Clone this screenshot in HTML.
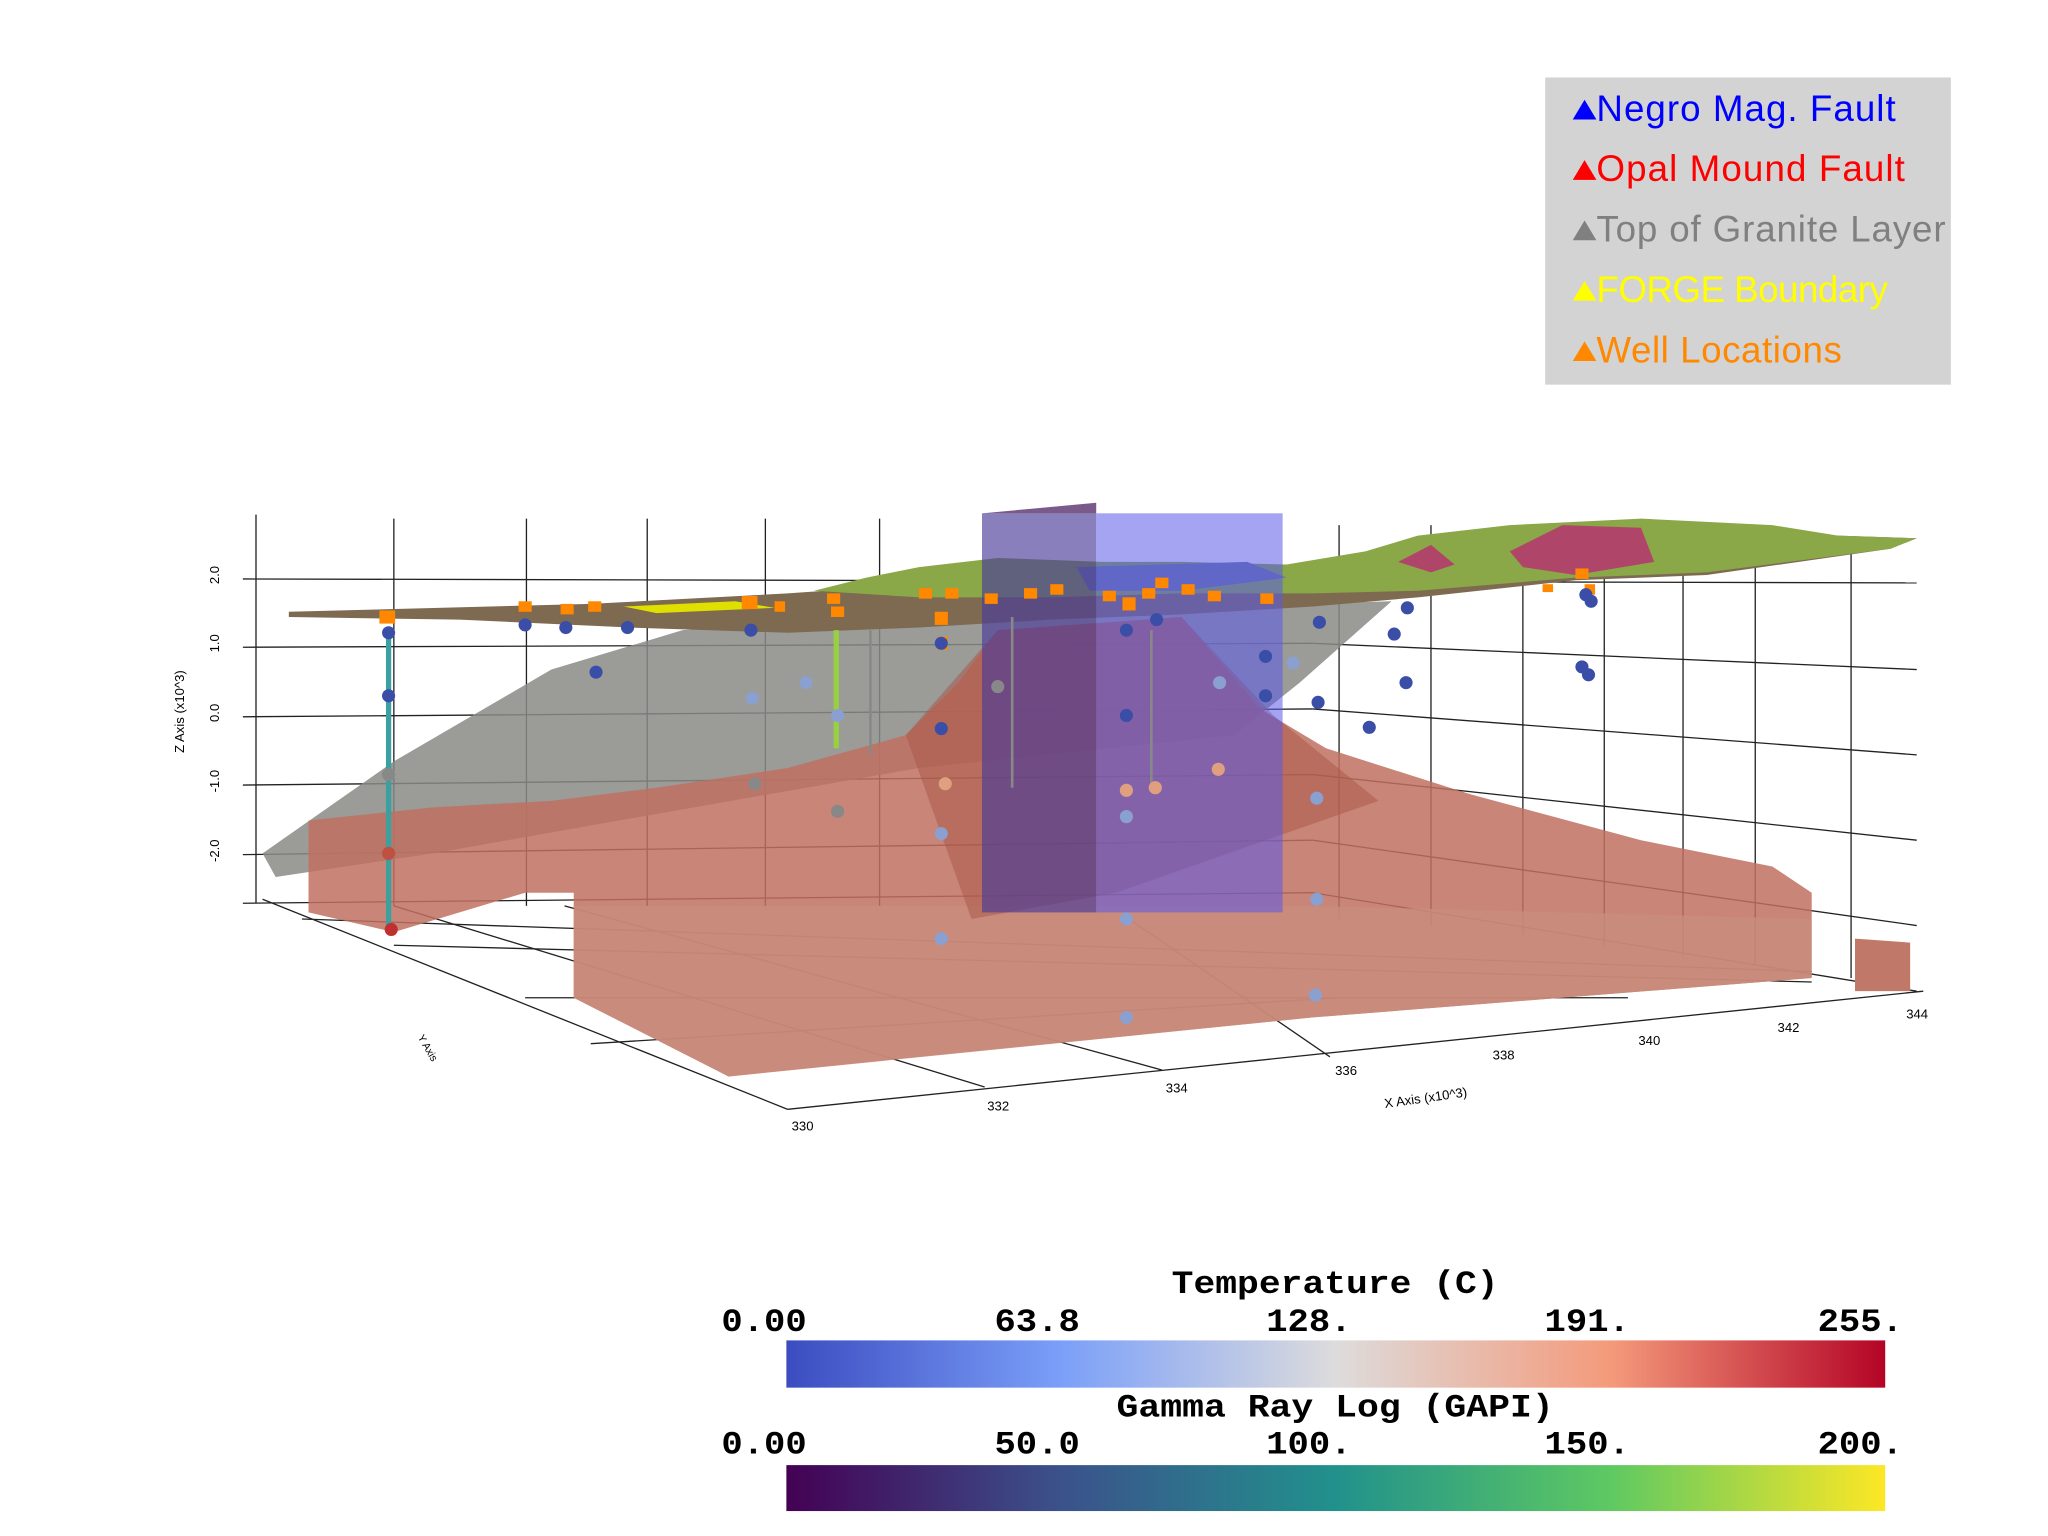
<!DOCTYPE html>
<html><head><style>
html,body{margin:0;padding:0;background:#fff;}
svg{display:block}
</style></head><body>
<svg width="2048" height="1536" viewBox="0 0 1560 1170" xmlns="http://www.w3.org/2000/svg">
<rect width="1560" height="1170" fill="#fff"/>
<g stroke="#222" stroke-width="1" fill="none">
<line x1="195" y1="392" x2="195" y2="688"/>
<line x1="300" y1="395" x2="300" y2="690"/>
<line x1="401" y1="395" x2="401" y2="690"/>
<line x1="493" y1="395" x2="493" y2="690"/>
<line x1="583" y1="395" x2="583" y2="690"/>
<line x1="670" y1="395" x2="670" y2="690"/>
<line x1="1020" y1="400" x2="1020" y2="700"/>
<line x1="1090" y1="400" x2="1090" y2="705"/>
<line x1="1160" y1="405" x2="1160" y2="712"/>
<line x1="1222" y1="410" x2="1222" y2="720"/>
<line x1="1282" y1="410" x2="1282" y2="728"/>
<line x1="1337" y1="415" x2="1337" y2="735"/>
<line x1="1410" y1="420" x2="1410" y2="745"/>
<line x1="185" y1="441" x2="1460" y2="444"/>
<line x1="185" y1="493" x2="1000" y2="490"/><line x1="1000" y1="490" x2="1460" y2="510"/>
<line x1="185" y1="546" x2="1000" y2="540"/><line x1="1000" y1="540" x2="1460" y2="575"/>
<line x1="185" y1="598" x2="1000" y2="590"/><line x1="1000" y1="590" x2="1460" y2="640"/>
<line x1="185" y1="651" x2="1000" y2="640"/><line x1="1000" y1="640" x2="1460" y2="705"/>
<line x1="185" y1="688" x2="1000" y2="680"/><line x1="1000" y1="680" x2="1460" y2="755"/>
<line x1="200" y1="685" x2="600" y2="845"/>
<line x1="600" y1="845" x2="1465" y2="755"/>
<line x1="230" y1="700" x2="1380" y2="740"/>
<line x1="300" y1="720" x2="1380" y2="748"/>
<line x1="400" y1="760" x2="1240" y2="760"/>
<line x1="450" y1="795" x2="1020" y2="760"/>
<line x1="750" y1="828" x2="300" y2="690"/>
<line x1="885" y1="815" x2="430" y2="690"/>
<line x1="1013" y1="805" x2="860" y2="700"/>
</g>
<polygon points="200,650 300,580 420,510 520,480 700,468 1060,458 990,520 940,560 700,585 500,620 330,650 210,668" fill="#8a8a86" opacity="0.85"/>
<polygon points="437,680 437,760 555,820 700,805 1000,775 1380,745 1380,680 1350,660 1250,640 1120,605 1010,570 960,540 900,470 760,480 730,520 690,560 600,585 500,600 420,610 330,615 235,625 235,695 300,710 400,680" fill="#c07060" opacity="0.85"/>
<polygon points="437,690 437,760 555,820 1000,775 1380,745 1380,700 1000,690 600,690" fill="#c98c7c" opacity="0.8"/>
<polygon points="1413,715 1455,718 1455,755 1413,755" fill="#c07868"/>
<polygon points="690,560 760,480 900,470 970,545 1050,610 850,680 740,700" fill="#a85545" opacity="0.5"/>
<!-- terrain -->
<polygon points="220,466 450,460 600,452 700,445 800,440 900,438 1000,432 1080,425 1150,418 1250,412 1350,410 1400,408 1460,410 1440,418 1300,438 1200,442 1080,455 1000,462 900,468 800,472 700,478 600,482 480,478 350,472 220,470" fill="#7d6a50"/>
<polygon points="620,450 660,440 700,432 760,425 840,428 900,428 980,430 1040,420 1080,408 1150,400 1250,395 1350,400 1400,408 1460,410 1440,418 1300,436 1200,440 1080,450 1000,452 900,452 800,455 700,455" fill="#8aa848"/>
<polygon points="1150,420 1190,400 1250,402 1260,428 1200,438 1160,432" fill="#b0456a"/>
<polygon points="1065,428 1090,415 1108,430 1090,436" fill="#b0456a"/>
<polygon points="820,432 950,428 980,440 900,450 830,450" fill="#6a78a0"/>
<polygon points="475,462 560,458 590,463 500,467" fill="#e0e000"/>
<rect x="748" y="391" width="87" height="304" fill="#4a3a9a" opacity="0.65"/>
<polygon points="748,391 835,383 835,391" fill="#7a5a8a"/>
<rect x="835" y="391" width="142" height="304" fill="#5a5ae8" opacity="0.55"/>
<rect x="294" y="480" width="4" height="230" fill="#3aa0a0"/>
<rect x="635" y="480" width="4" height="90" fill="#9ad040"/>
<g fill="#888"><rect x="662" y="480" width="2" height="95"/><rect x="770" y="470" width="2" height="130"/><rect x="876" y="480" width="2" height="120"/></g>
<g fill="#ff8800">
<rect x="289" y="465" width="12" height="10"/><rect x="395" y="458" width="10" height="8"/><rect x="427" y="460" width="10" height="8"/><rect x="448" y="458" width="10" height="8"/>
<rect x="565" y="454" width="12" height="10"/><rect x="590" y="458" width="8" height="8"/><rect x="630" y="452" width="10" height="8"/><rect x="633" y="462" width="10" height="8"/>
<rect x="700" y="448" width="10" height="8"/><rect x="712" y="466" width="10" height="10"/><rect x="720" y="448" width="10" height="8"/><rect x="750" y="452" width="10" height="8"/>
<rect x="780" y="448" width="10" height="8"/><rect x="800" y="445" width="10" height="8"/><rect x="840" y="450" width="10" height="8"/><rect x="855" y="455" width="10" height="10"/>
<rect x="870" y="448" width="10" height="8"/><rect x="880" y="440" width="10" height="8"/><rect x="900" y="445" width="10" height="8"/><rect x="920" y="450" width="10" height="8"/>
<rect x="960" y="452" width="10" height="8"/><rect x="714" y="485" width="8" height="10"/><rect x="1175" y="445" width="8" height="6"/><rect x="1200" y="433" width="10" height="8"/><rect x="1207" y="445" width="8" height="8"/>
</g>
<g fill="#3a4ea8">
<circle cx="296" cy="482" r="5"/><circle cx="400" cy="476" r="5"/><circle cx="431" cy="478" r="5"/><circle cx="478" cy="478" r="5"/><circle cx="454" cy="512" r="5"/>
<circle cx="572" cy="480" r="5"/><circle cx="717" cy="490" r="5"/><circle cx="717" cy="555" r="5"/><circle cx="858" cy="480" r="5"/><circle cx="858" cy="545" r="5"/><circle cx="881" cy="472" r="5"/>
<circle cx="964" cy="500" r="5"/><circle cx="964" cy="530" r="5"/><circle cx="1005" cy="474" r="5"/><circle cx="1004" cy="535" r="5"/><circle cx="1043" cy="554" r="5"/>
<circle cx="1062" cy="483" r="5"/><circle cx="1071" cy="520" r="5"/><circle cx="1072" cy="463" r="5"/><circle cx="1205" cy="508" r="5"/><circle cx="1210" cy="514" r="5"/><circle cx="1208" cy="453" r="5"/><circle cx="1212" cy="458" r="5"/>
<circle cx="296" cy="530" r="5"/>
</g>
<g fill="#8aa0d0">
<circle cx="573" cy="532" r="5"/><circle cx="614" cy="520" r="5"/><circle cx="717" cy="635" r="5"/><circle cx="717" cy="715" r="5"/><circle cx="858" cy="622" r="5"/><circle cx="858" cy="700" r="5"/><circle cx="929" cy="520" r="5"/><circle cx="1003" cy="608" r="5"/><circle cx="1003" cy="685" r="5"/><circle cx="1002" cy="758" r="5"/><circle cx="858" cy="775" r="5"/><circle cx="985" cy="505" r="5"/><circle cx="638" cy="545" r="5"/>
</g>
<g fill="#e0a080"><circle cx="720" cy="597" r="5"/><circle cx="858" cy="602" r="5"/><circle cx="880" cy="600" r="5"/><circle cx="928" cy="586" r="5"/></g>
<g fill="#888"><circle cx="296" cy="590" r="5"/><circle cx="638" cy="618" r="5"/><circle cx="760" cy="523" r="5"/><circle cx="575" cy="597" r="5"/></g>
<circle cx="296" cy="650" r="5" fill="#c05040"/><circle cx="298" cy="708" r="5" fill="#c03030"/>
<g font-family="Liberation Sans, sans-serif" font-size="10" fill="#000">
<text x="170" y="441" transform="rotate(-90 167 441)" text-anchor="middle">2.0</text>
<text x="170" y="493" transform="rotate(-90 167 493)" text-anchor="middle">1.0</text>
<text x="170" y="546" transform="rotate(-90 167 546)" text-anchor="middle">0.0</text>
<text x="170" y="598" transform="rotate(-90 167 598)" text-anchor="middle">-1.0</text>
<text x="170" y="651" transform="rotate(-90 167 651)" text-anchor="middle">-2.0</text>
<text x="143" y="545" transform="rotate(-90 140 545)" text-anchor="middle">Z Axis (x10^3)</text>
<text x="603" y="861">330</text><text x="752" y="846">332</text><text x="888" y="832">334</text><text x="1017" y="819">336</text>
<text x="1137" y="807">338</text><text x="1248" y="796">340</text><text x="1354" y="786">342</text><text x="1452" y="776">344</text>
<text x="1055" y="844" transform="rotate(-8 1055 844)">X Axis (x10^3)</text>
<text x="318" y="790" transform="rotate(60 318 790)" font-size="8">Y Axis</text>
</g>
<rect x="1177" y="59" width="309" height="234" fill="#d3d3d3"/>
<g font-family="Liberation Sans, DejaVu Sans, sans-serif" font-size="28">
<polygon points="1198,91 1216,91 1207,76" fill="#0000ff"/><text x="1216" y="92" fill="#0000ff" textLength="228">Negro Mag. Fault</text>
<polygon points="1198,137 1216,137 1207,122" fill="#ff0000"/><text x="1216" y="138" fill="#ff0000" textLength="235">Opal Mound Fault</text>
<polygon points="1198,183 1216,183 1207,168" fill="#808080"/><text x="1216" y="184" fill="#808080" textLength="266">Top of Granite Layer</text>
<polygon points="1198,229 1216,229 1207,214" fill="#ffff00"/><text x="1216" y="230" fill="#ffff00" textLength="222">FORGE Boundary</text>
<polygon points="1198,275 1216,275 1207,260" fill="#ff8800"/><text x="1216" y="276" fill="#ff8800" textLength="187">Well Locations</text>
</g>
<defs>
<linearGradient id="cw"><stop offset="0" stop-color="#3b4cc0"/><stop offset="0.25" stop-color="#7b9ff9"/><stop offset="0.5" stop-color="#dddcdc"/><stop offset="0.75" stop-color="#f49a7b"/><stop offset="1" stop-color="#b40426"/></linearGradient>
<linearGradient id="vi"><stop offset="0" stop-color="#440154"/><stop offset="0.25" stop-color="#3b528b"/><stop offset="0.5" stop-color="#21918c"/><stop offset="0.75" stop-color="#5ec962"/><stop offset="1" stop-color="#fde725"/></linearGradient>
</defs>
<rect x="599" y="1021" width="837" height="36" fill="url(#cw)"/>
<rect x="599" y="1116" width="837" height="35" fill="url(#vi)"/>
<g font-family="Liberation Mono, monospace" font-weight="bold" font-size="25" fill="#000">
<text x="1017" y="985" text-anchor="middle" textLength="249" lengthAdjust="spacingAndGlyphs">Temperature (C)</text>
<text x="582" y="1014" text-anchor="middle" textLength="65" lengthAdjust="spacingAndGlyphs">0.00</text><text x="790" y="1014" text-anchor="middle" textLength="65" lengthAdjust="spacingAndGlyphs">63.8</text><text x="997" y="1014" text-anchor="middle" textLength="65" lengthAdjust="spacingAndGlyphs">128.</text><text x="1209" y="1014" text-anchor="middle" textLength="65" lengthAdjust="spacingAndGlyphs">191.</text><text x="1417" y="1014" text-anchor="middle" textLength="65" lengthAdjust="spacingAndGlyphs">255.</text>
<text x="1017" y="1079" text-anchor="middle" textLength="333" lengthAdjust="spacingAndGlyphs">Gamma Ray Log (GAPI)</text>
<text x="582" y="1107" text-anchor="middle" textLength="65" lengthAdjust="spacingAndGlyphs">0.00</text><text x="790" y="1107" text-anchor="middle" textLength="65" lengthAdjust="spacingAndGlyphs">50.0</text><text x="997" y="1107" text-anchor="middle" textLength="65" lengthAdjust="spacingAndGlyphs">100.</text><text x="1209" y="1107" text-anchor="middle" textLength="65" lengthAdjust="spacingAndGlyphs">150.</text><text x="1417" y="1107" text-anchor="middle" textLength="65" lengthAdjust="spacingAndGlyphs">200.</text>
</g>
</svg>
</body></html>
